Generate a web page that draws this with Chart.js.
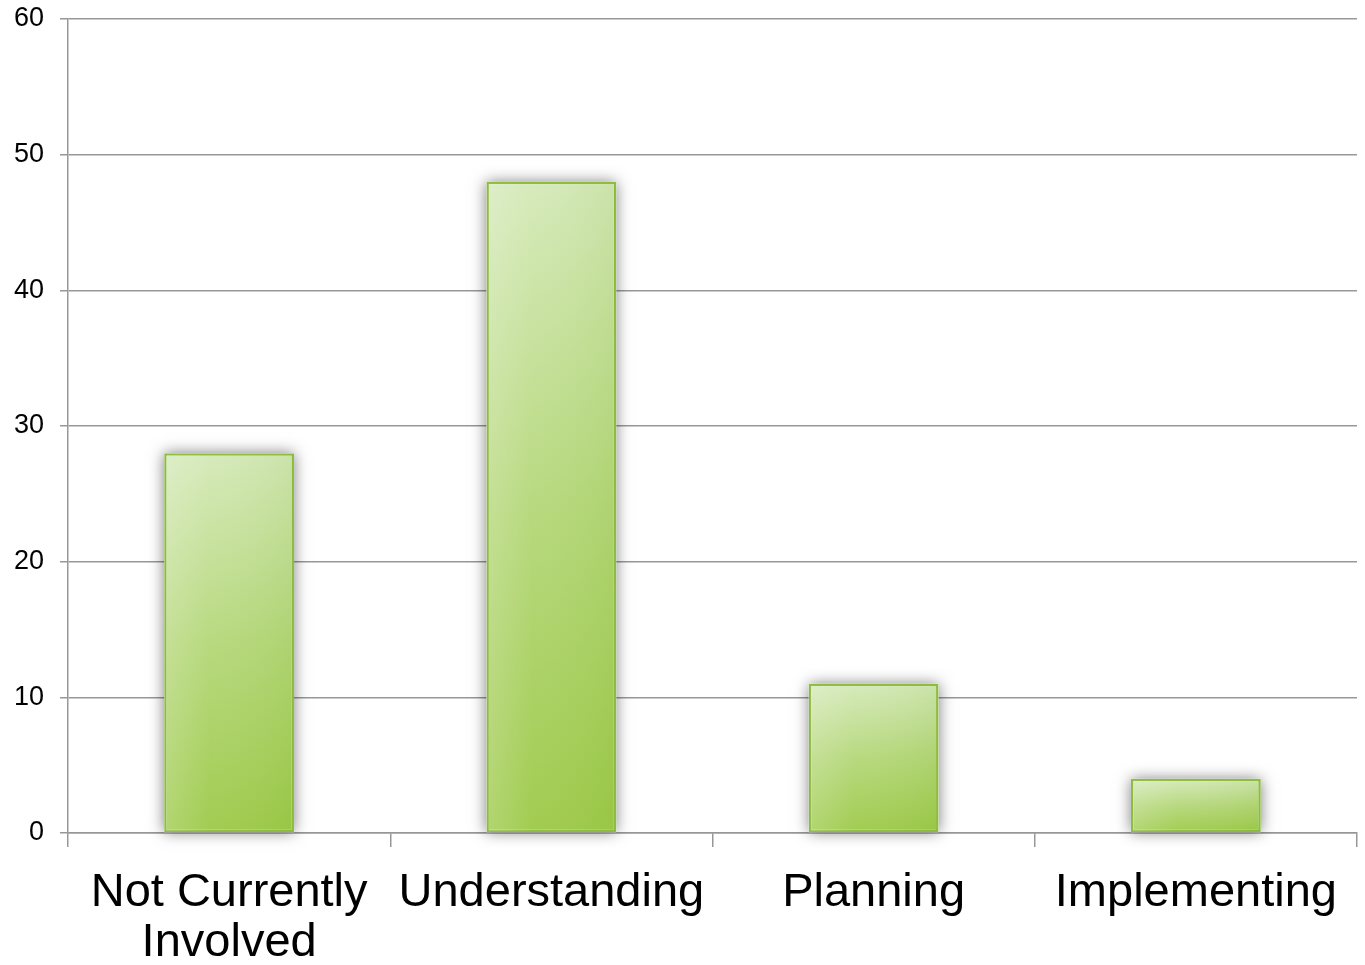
<!DOCTYPE html>
<html>
<head>
<meta charset="utf-8">
<script src="https://cdn.jsdelivr.net/npm/chart.js@4.4.1/dist/chart.umd.min.js"></script>
<style>
html,body{margin:0;padding:0;background:#fff;}
#wrap{width:1365px;height:965px;position:relative;}
</style>
</head>
<body>
<div id="wrap"><canvas id="c" width="1365" height="965"></canvas></div>
<script>
const categories = [["Not Currently", "Involved"], "Understanding", "Planning", "Implementing"];
const values = [28, 48, 11, 4];
const yTicks = [0, 10, 20, 30, 40, 50, 60];

const gridColor = '#979797';

function barFill(context) {
  const chart = context.chart;
  const area = chart.chartArea;
  if (!area || context.type !== 'data') return '#b5d77a';
  const yScale = chart.scales.y;
  const top = yScale.getPixelForValue(context.raw);
  const base = yScale.getPixelForValue(0);
  const g = chart.ctx.createLinearGradient(0, top, 0, base);
  g.addColorStop(0, '#d4e9b8');
  g.addColorStop(0.5, '#b4d778');
  g.addColorStop(1, '#9cc947');
  return g;
}

const shadowPlugin = {
  id: 'barShadow',
  beforeDatasetsDraw(chart) {
    const ctx = chart.ctx;
    const meta = chart.getDatasetMeta(0);
    ctx.save();
    ctx.shadowColor = 'rgba(0,0,0,0.5)';
    ctx.shadowBlur = 14;
    ctx.shadowOffsetX = 0;
    ctx.shadowOffsetY = 0;
    ctx.fillStyle = '#ffffff';
    meta.data.forEach(el => {
      const p = el.getProps(['x', 'y', 'base', 'width'], true);
      ctx.fillRect(p.x - p.width / 2, p.y, p.width, p.base - p.y);
    });
    ctx.restore();
  },
  afterDatasetsDraw(chart) {
    const ctx = chart.ctx;
    const meta = chart.getDatasetMeta(0);
    ctx.save();
    meta.data.forEach(el => {
      const p = el.getProps(['x', 'y', 'base', 'width'], true);
      const l = p.x - p.width / 2 + 2, r = p.x + p.width / 2 - 2;
      const g = ctx.createLinearGradient(l, 0, r, 0);
      g.addColorStop(0, 'rgba(255,255,255,0.22)');
      g.addColorStop(0.35, 'rgba(255,255,255,0.05)');
      g.addColorStop(1, 'rgba(120,170,40,0.10)');
      ctx.fillStyle = g;
      ctx.fillRect(l, p.y + 2, r - l, p.base - p.y - 3);
    });
    ctx.restore();
  }
};

new Chart(document.getElementById('c'), {
  type: 'bar',
  data: {
    labels: categories,
    datasets: [{
      data: values,
      backgroundColor: barFill,
      borderColor: '#8dbd3e',
      borderWidth: 2.5,
      borderSkipped: false,
      categoryPercentage: 1.0,
      barPercentage: 0.403
    }]
  },
  options: {
    responsive: false,
    animation: false,
    devicePixelRatio: 1,
    layout: { padding: { top: 19, right: 8, left: 0, bottom: 0 } },
    plugins: { legend: { display: false }, tooltip: { enabled: false } },
    scales: {
      x: {
        offset: true,
        grid: {
          display: true,
          offset: true,
          drawOnChartArea: false,
          drawTicks: true,
          tickLength: 14,
          color: gridColor,
          lineWidth: 1.5
        },
        border: { display: true, color: gridColor, width: 1.5 },
        ticks: {
          color: '#000',
          font: { family: 'Liberation Sans, Arial, sans-serif', size: 47, lineHeight: 1.06 },
          padding: 21,
          maxRotation: 0,
          autoSkip: false
        },
        afterFit(scale) {
          scale.height = 132;
          scale.paddingLeft = 0; scale.paddingRight = 0;
          scale.paddingTop = 0; scale.paddingBottom = 0;
        }
      },
      y: {
        min: 0,
        max: 60,
        afterBuildTicks(scale) { scale.ticks = yTicks.map(v => ({ value: v })); },
        grid: {
          color: gridColor,
          lineWidth: 1.5,
          drawTicks: true,
          tickLength: 8
        },
        border: { display: true, color: gridColor, width: 1.5 },
        ticks: {
          color: '#000',
          font: { family: 'Liberation Sans, Arial, sans-serif', size: 27 },
          padding: 16
        },
        afterFit(scale) {
          scale.width = 68;
          scale.paddingTop = 0; scale.paddingBottom = 0;
          scale.paddingLeft = 0; scale.paddingRight = 0;
        }
      }
    }
  },
  plugins: [shadowPlugin]
});
</script>
</body>
</html>
